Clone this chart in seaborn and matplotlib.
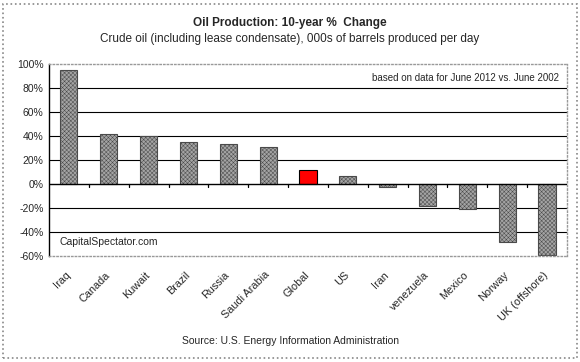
import matplotlib
matplotlib.use('Agg')
import matplotlib.pyplot as plt
import matplotlib.transforms as mtransforms
import seaborn as sns
import pandas as pd
from matplotlib.patches import Rectangle
from matplotlib.ticker import FuncFormatter

countries = ["Iraq", "Canada", "Kuwait", "Brazil", "Russia", "Saudi Arabia", "Global",
             "US", "Iran", "venezuela", "Mexico", "Norway", "UK (offshore)"]
pct_change = [95, 42, 40, 35, 33, 31, 12, 7, -2.5, -18.5, -21, -48.5, -59]
highlight = "Global"

sns.set_theme(style="white")
plt.rcParams['font.family'] = ['Liberation Sans', 'DejaVu Sans']
plt.rcParams['hatch.linewidth'] = 0.35

df = pd.DataFrame({"country": countries, "change": pct_change})
colors = ["#ff0000" if c == highlight else "#a4a4a4" for c in countries]

fig = plt.figure(figsize=(5.8, 3.62), dpi=100)
ax = fig.add_axes([0.0845, 0.293, 0.893, 0.530])

sns.barplot(data=df, x="country", y="change", hue="country", palette=colors,
            legend=False, width=0.43, edgecolor="black", linewidth=0.8,
            saturation=1, ax=ax)
for patch, c in zip(ax.patches, countries):
    if c != highlight:
        patch.set_hatch("xxxxxxxx")
        patch.set_edgecolor("#4a4a4a")

ax.set_ylim(-60, 100)
ax.set_xlim(-0.5, len(countries) - 0.5)
ax.set_yticks(range(-60, 101, 20))
ax.yaxis.set_major_formatter(FuncFormatter(lambda v, p: f"{v:.0f}%"))
for y in range(-40, 100, 20):
    if y == 0:
        continue
    ax.axhline(y, color="black", linewidth=0.8, zorder=0)
ax.axhline(0, color="black", linewidth=1.0, zorder=3)

# category separator ticks on the zero line
for i in range(len(countries) - 1):
    ax.plot([i + 0.5, i + 0.5], [0, -2.5], color="black", linewidth=0.9, zorder=3)

ax.set_xticks(range(len(countries)))
ax.set_xticklabels(countries, rotation=45, ha="right", rotation_mode="anchor", fontsize=7.8)
ax.tick_params(axis="x", length=0, pad=10)
ax.tick_params(axis="y", labelsize=7.5, length=0, pad=4)
shift = mtransforms.ScaledTranslation(-4 / 100, 0, fig.dpi_scale_trans)
for lbl in ax.get_xticklabels():
    lbl.set_transform(lbl.get_transform() + shift)
ax.set_xlabel("")
ax.set_ylabel("")

for side in ["top", "right", "bottom"]:
    ax.spines[side].set_color("#999999")
    ax.spines[side].set_linestyle(":")
    ax.spines[side].set_linewidth(1.0)
ax.spines["left"].set_color("black")
ax.spines["left"].set_linewidth(1.0)

ax.text(0.985, 0.955, "based on data for June 2012 vs. June 2002", transform=ax.transAxes,
        ha="right", va="top", fontsize=7)
ax.text(0.02, 0.045, "CapitalSpectator.com", transform=ax.transAxes,
        ha="left", va="bottom", fontsize=7.5)

fig.text(0.5, 0.937, "Oil Production: 10-year %  Change", ha="center", va="center",
         fontsize=8.5, fontweight="bold")
fig.text(0.5, 0.893, "Crude oil (including lease condensate), 000s of barrels produced per day",
         ha="center", va="center", fontsize=8.5)
fig.text(0.5, 0.058, "Source: U.S. Energy Information Administration", ha="center",
         va="center", fontsize=7.5)

fig.patches.append(Rectangle((0.006, 0.012), 0.988, 0.976, transform=fig.transFigure,
                             fill=False, edgecolor="#888888", linestyle=":", linewidth=1.2))

fig.savefig("out.png", dpi=100)
plt.close()
